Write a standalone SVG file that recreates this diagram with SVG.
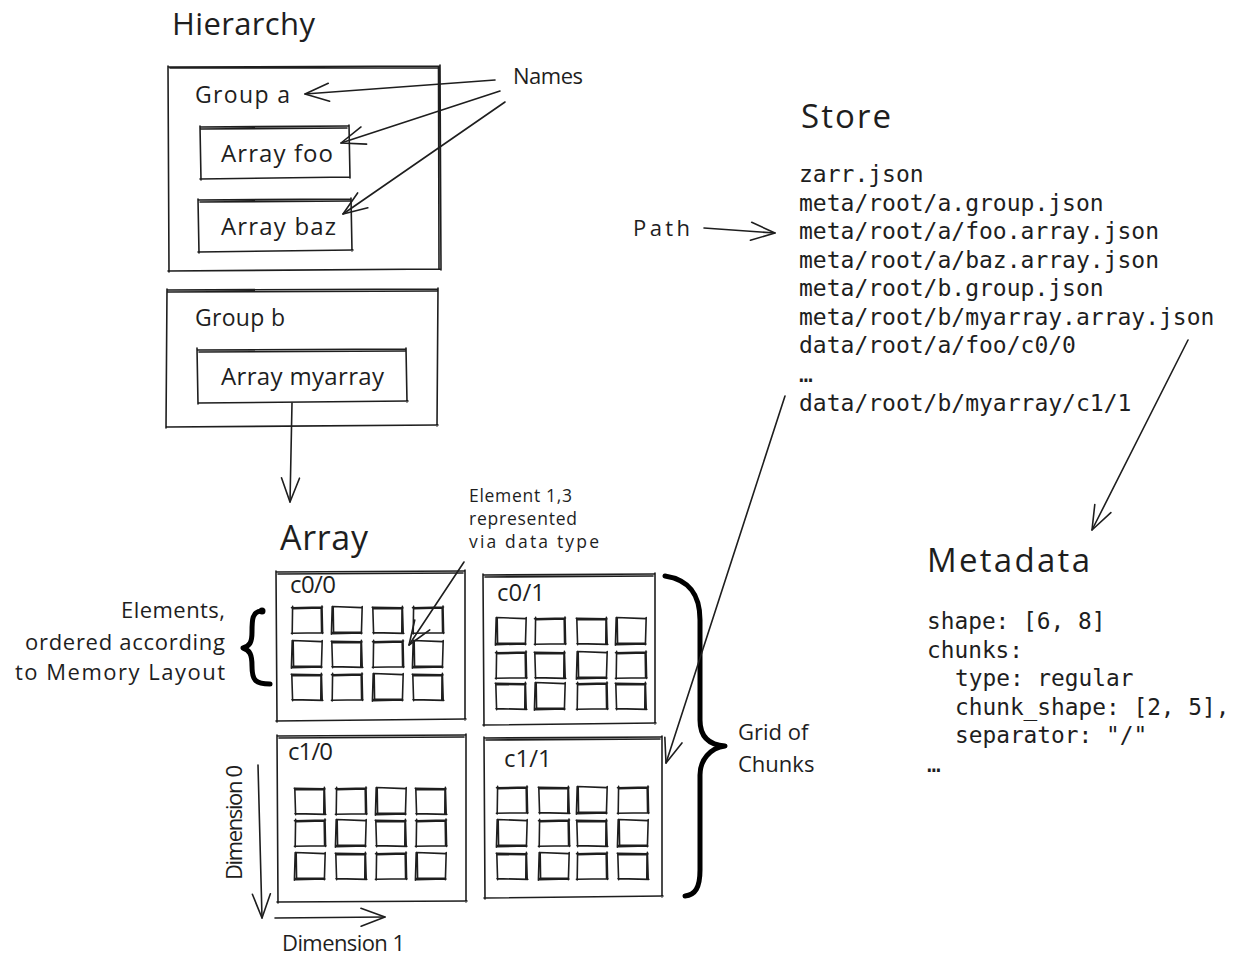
<svg xmlns="http://www.w3.org/2000/svg" width="1237" height="957" viewBox="0 0 1237 957">
<style>
.s{fill:none;stroke:#1e1e1e;stroke-width:1.6;stroke-linecap:round;stroke-linejoin:round}
.b{fill:none;stroke:#000;stroke-width:5;stroke-linecap:round;stroke-linejoin:round}
.h{font-family:"Open Sans","Liberation Sans",sans-serif;fill:#1e1e1e}
.m{font-family:"DejaVu Sans Mono","Liberation Mono",monospace;fill:#1e1e1e;font-size:23px}
</style>
<defs>
<marker id="arr" viewBox="-26 -12 30 24" refX="0" refY="0" markerWidth="30" markerHeight="24" markerUnits="userSpaceOnUse" orient="auto" overflow="visible">
<path d="M-24,-9 L0,0 L-24,9" fill="none" stroke="#1e1e1e" stroke-width="1.6" stroke-linecap="round" stroke-linejoin="round"/>
</marker>
<path id="sqA" class="s" d="M-0.5,0.8 L30.5,0 M30,-1 L30.6,26.5 M31,25.8 L-0.6,26.2 M0.2,27 L0.6,-0.8 M1,1.6 L29.5,1 M29.2,1 L29.6,25.5"/>
<path id="sqB" class="s" d="M0.5,-0.5 L29.5,0.6 M30.2,-0.4 L29.4,26.8 M30,26 L0.4,26.6 M-0.6,27.2 L0.2,-0.4 M1.2,0.8 L1.6,25.6 M0.8,25.4 L29,25.2"/>
<path id="sqC" class="s" d="M-0.8,0.2 L30,0.9 M29.4,-0.8 L30.2,26 M30.8,26.4 L0,25.6 M0.6,26.8 L-0.2,0.4 M0.4,1.4 L29.2,1.8 M29,1 L28.8,25"/>
</defs>

<g id="title-hierarchy"><text class="h" x="172" y="35" font-size="31" textLength="143">Hierarchy</text></g>

<g id="group-a">
<path class="s" d="M168,67 L440,66 M440,65 L441,270 M441,269 L168,271 M169,272 L168,66 M170,68 L439,68 M438.5,67 L439,269"/>
<text class="h" x="195" y="103" font-size="23" textLength="95">Group a</text>
</g>
<g id="array-foo">
<path class="s" d="M200,127 L348,126 M349,125 L350,178 M350,177 L200,179 M201,180 L200,126 M201,129 L347,128"/>
<text class="h" x="221" y="162" font-size="24" textLength="112">Array foo</text>
</g>
<g id="array-baz">
<path class="s" d="M198,200 L351,199 M351,198 L352,251 M353,250 L198,252 M199,253 L198,199 M200,202 L350,201"/>
<text class="h" x="221" y="235" font-size="24" textLength="115">Array baz</text>
</g>
<g id="names"><text class="h" x="513" y="84" font-size="22" textLength="70">Names</text></g>

<g id="group-b">
<path class="s" d="M167,290 L438,289 M438,288 L437,426 M438,425 L167,427 M166,428 L167,289 M168,292 L437,291"/>
<text class="h" x="195" y="326" font-size="23" textLength="90">Group b</text>
</g>
<g id="array-myarray">
<path class="s" d="M197,350 L406,349 M406,348 L407,402 M408,401 L198,403 M198,404 L197,348 M199,352 L405,351"/>
<text class="h" x="221" y="385" font-size="24" textLength="163">Array myarray</text>
</g>

<g id="title-array"><text class="h" x="280" y="550" font-size="34" textLength="88">Array</text></g>

<g id="chunk-c00">
<path class="s" d="M276,572 L464,571 M465,570 L465,720 M466,719 L276,721 M277,722 L276,571 M278,574 L463,573"/>
<text class="h" x="290" y="593" font-size="24" textLength="46">c0/0</text>
<use href="#sqA" x="292" y="607"/><use href="#sqB" x="332" y="607"/><use href="#sqC" x="373" y="607"/><use href="#sqA" x="413" y="607"/>
<use href="#sqB" x="292" y="641"/><use href="#sqC" x="332" y="641"/><use href="#sqA" x="373" y="641"/><use href="#sqB" x="413" y="641"/>
<use href="#sqC" x="292" y="674"/><use href="#sqA" x="332" y="674"/><use href="#sqB" x="373" y="674"/><use href="#sqC" x="413" y="674"/>
</g>
<g id="chunk-c01">
<path class="s" d="M483,575 L654,574 M655,573 L655,724 M656,723 L483,725 M484,726 L483,574 M485,577 L653,576"/>
<text class="h" x="497" y="601" font-size="24" textLength="48">c0/1</text>
<use href="#sqB" x="496" y="618"/><use href="#sqA" x="535" y="618"/><use href="#sqC" x="577" y="618"/><use href="#sqB" x="616" y="618"/>
<use href="#sqA" x="496" y="652"/><use href="#sqC" x="535" y="652"/><use href="#sqB" x="577" y="652"/><use href="#sqA" x="616" y="652"/>
<use href="#sqC" x="496" y="683"/><use href="#sqB" x="535" y="683"/><use href="#sqA" x="577" y="683"/><use href="#sqC" x="616" y="683"/>
</g>
<g id="chunk-c10">
<path class="s" d="M277,736 L465,735 M466,734 L466,902 M467,901 L277,902 M278,903 L277,735 M279,738 L464,737"/>
<text class="h" x="288" y="760" font-size="24" textLength="45">c1/0</text>
<use href="#sqC" x="295" y="788"/><use href="#sqA" x="336" y="788"/><use href="#sqB" x="376" y="788"/><use href="#sqC" x="416" y="788"/>
<use href="#sqA" x="295" y="820"/><use href="#sqB" x="336" y="820"/><use href="#sqC" x="376" y="820"/><use href="#sqA" x="416" y="820"/>
<use href="#sqB" x="295" y="853"/><use href="#sqC" x="336" y="853"/><use href="#sqA" x="376" y="853"/><use href="#sqB" x="416" y="853"/>
</g>
<g id="chunk-c11">
<path class="s" d="M484,738 L661,737 M662,736 L662,897 M663,896 L484,898 M485,899 L484,737 M486,740 L660,739"/>
<text class="h" x="504" y="767" font-size="24">c1/1</text>
<use href="#sqA" x="497" y="787"/><use href="#sqC" x="539" y="787"/><use href="#sqB" x="577" y="787"/><use href="#sqA" x="618" y="787"/>
<use href="#sqB" x="497" y="820"/><use href="#sqA" x="539" y="820"/><use href="#sqC" x="577" y="820"/><use href="#sqB" x="618" y="820"/>
<use href="#sqC" x="497" y="853"/><use href="#sqB" x="539" y="853"/><use href="#sqA" x="577" y="853"/><use href="#sqC" x="618" y="853"/>
</g>

<g id="element-label">
<text class="h" font-size="17.5"><tspan x="469" y="502" textLength="103">Element 1,3</tspan><tspan x="469" y="525" textLength="108">represented</tspan><tspan x="469" y="548" textLength="130">via data type</tspan></text>
</g>

<g id="elements-label">
<text class="h" font-size="22" text-anchor="end"><tspan x="225" y="618" textLength="104">Elements,</tspan><tspan x="225" y="650" textLength="200">ordered according</tspan><tspan x="225" y="680" textLength="210">to Memory Layout</tspan></text>
<path class="b" d="M262,611 C252,611 252,620 252,632 C252,642 250,646 243,648 C250,650 252,655 252,666 C252,680 255,684 270,684"/>
<circle cx="262" cy="611" r="3.5" fill="#000"/>
</g>

<g id="grid-label">
<path class="b" d="M665,576 C690,580 700,595 700,620 L700,720 C700,738 710,745 725,746 C710,748 700,760 700,775 L700,870 C700,888 695,895 685,896"/>
<text class="h" font-size="22"><tspan x="738" y="740">Grid of</tspan><tspan x="738" y="772">Chunks</tspan></text>
</g>

<g id="dimension-0"><text class="h" font-size="22" transform="translate(242,880) rotate(-90)" x="0" y="0" textLength="115">Dimension 0</text></g>
<g id="dimension-1"><text class="h" x="282" y="951" font-size="22" textLength="123">Dimension 1</text></g>

<g id="store">
<text class="h" x="801" y="128" font-size="33" textLength="90">Store</text>
<text class="m"><tspan x="799" y="182">zarr.json</tspan><tspan x="799" y="211">meta/root/a.group.json</tspan><tspan x="799" y="239">meta/root/a/foo.array.json</tspan><tspan x="799" y="268">meta/root/a/baz.array.json</tspan><tspan x="799" y="296">meta/root/b.group.json</tspan><tspan x="799" y="325">meta/root/b/myarray.array.json</tspan><tspan x="799" y="353">data/root/a/foo/c0/0</tspan><tspan x="799" y="382">…</tspan><tspan x="799" y="411">data/root/b/myarray/c1/1</tspan></text>
</g>
<g id="path-label"><text class="h" x="633" y="236" font-size="22" textLength="57">Path</text></g>

<g id="metadata">
<text class="h" x="927" y="572" font-size="33" textLength="163">Metadata</text>
<text class="m" style="font-size:22.8px"><tspan x="927" y="629">shape: [6, 8]</tspan><tspan x="927" y="658">chunks:</tspan><tspan x="955" y="686">type: regular</tspan><tspan x="955" y="715">chunk_shape: [2, 5],</tspan><tspan x="955" y="743">separator: "/"</tspan><tspan x="927" y="772">…</tspan></text>
</g>

<g id="connectors">
<path class="s" d="M495,80 L305,94" marker-end="url(#arr)"/>
<path class="s" d="M500,91 L341,143" marker-end="url(#arr)"/>
<path class="s" d="M505,102 L343,214" marker-end="url(#arr)"/>
<path class="s" d="M292,403 L290,502" marker-end="url(#arr)"/>
<path class="s" d="M704,228 L775,233" marker-end="url(#arr)"/>
<path class="s" d="M464,562 L409,645" marker-end="url(#arr)"/>
<path class="s" d="M785,396 L666,763" marker-end="url(#arr)"/>
<path class="s" d="M1188,340 L1092,530" marker-end="url(#arr)"/>
<path class="s" d="M258,765 L262,918" marker-end="url(#arr)"/>
<path class="s" d="M275,918 L385,917" marker-end="url(#arr)"/>
</g>
</svg>
